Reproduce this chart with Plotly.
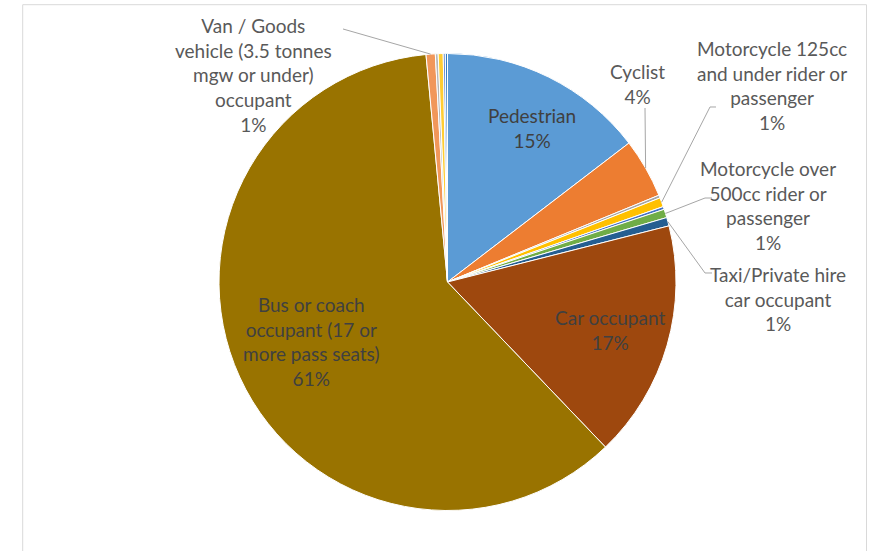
import math
import plotly.graph_objects as go

W, H = 874, 551

# Casualty types in reporting order (share of casualties, %)
categories = [
    "Pedestrian",
    "Cyclist",
    "Motorcycle 50cc and under rider or passenger",
    "Motorcycle 125cc and under rider or passenger",
    "Motorcycle over 125cc and up to 500cc rider or passenger",
    "Motorcycle over 500cc rider or passenger",
    "Taxi/Private hire car occupant",
    "Car occupant",
    "Bus or coach occupant (17 or more pass seats)",
    "Van / Goods vehicle (3.5 tonnes mgw or under) occupant",
    "Goods vehicle (over 3.5t. and under 7.5t.) occupant",
    "Goods vehicle (7.5 tonnes mgw and over) occupant",
    "Mobility scooter rider",
    "Other vehicle occupant",
]
values = [14.6, 4.2, 0.2, 0.65, 0.2, 0.6, 0.6, 16.8, 60.65, 0.65, 0.2, 0.35, 0.15, 0.15]
colors = ["#5B9BD5", "#ED7D31", "#A5A5A5", "#FFC000", "#4472C4", "#70AD47", "#255E91",
          "#9E480E", "#997300", "#F1975A", "#B7B7B7", "#FFCD33", "#698ED0", "#327DC2"]

# Label text per slice (None = unlabelled), with line breaks
label_text = {
    "Pedestrian": "Pedestrian",
    "Cyclist": "Cyclist",
    "Motorcycle 125cc and under rider or passenger": "Motorcycle 125cc<br>and under rider or<br>passenger",
    "Motorcycle over 500cc rider or passenger": "Motorcycle over<br>500cc rider or<br>passenger",
    "Taxi/Private hire car occupant": "Taxi/Private hire<br>car occupant",
    "Car occupant": "Car occupant",
    "Bus or coach occupant (17 or more pass seats)": "Bus or coach<br>occupant (17 or<br>more pass seats)",
    "Van / Goods vehicle (3.5 tonnes mgw or under) occupant": "Van / Goods<br>vehicle (3.5 tonnes<br>mgw or under)<br>occupant",
}
# Label centre positions (px) and whether the label sits inside its slice
label_pos = {
    "Pedestrian": (532, 128, True),
    "Cyclist": (637, 84, False),
    "Motorcycle 125cc and under rider or passenger": (772, 85, False),
    "Motorcycle over 500cc rider or passenger": (768, 206, False),
    "Taxi/Private hire car occupant": (778, 299, False),
    "Car occupant": (610, 330, True),
    "Bus or coach occupant (17 or more pass seats)": (311, 341, True),
    "Van / Goods vehicle (3.5 tonnes mgw or under) occupant": (253, 75, False),
}
# Leader line waypoints (px) from the label towards the slice edge
leader_pts = {
    "Cyclist": [(645, 108)],
    "Motorcycle 125cc and under rider or passenger": [(716, 107), (710, 107)],
    "Motorcycle over 500cc rider or passenger": [(712, 198), (705, 198)],
    "Taxi/Private hire car occupant": [(712, 273), (705, 273)],
    "Van / Goods vehicle (3.5 tonnes mgw or under) occupant": [(343, 29)],
}

# Pie geometry in pixels
CX, CY, R = 447.5, 282.0, 228.5


def px(x):
    return x / W


def py(y):
    return 1 - y / H


fig = go.Figure(go.Pie(
    labels=categories,
    values=values,
    sort=False,
    direction="clockwise",
    rotation=0,
    textinfo="none",
    hoverinfo="label+percent",
    marker=dict(colors=colors, line=dict(color="white", width=1)),
    domain=dict(x=[(CX - R) / W, (CX + R) / W], y=[1 - (CY + R) / H, 1 - (CY - R) / H]),
    showlegend=False,
    automargin=False,
))

total = sum(values)
annotations = []
shapes = []
cum = 0.0
for cat, v in zip(categories, values):
    start = cum
    cum += v
    if cat not in label_text:
        continue
    pct = round(v / total * 100)
    x, y, inside = label_pos[cat]
    annotations.append(dict(
        x=px(x), y=py(y), xref="paper", yref="paper",
        xanchor="center", yanchor="middle", showarrow=False, align="center",
        text=f"{label_text[cat]}<br>{pct}%",
        font=dict(family="Lato", size=19, color="#404040" if inside else "#595959"),
    ))
    if cat in leader_pts:
        mid = (start + v / 2) / total * 2 * math.pi
        ex, ey = CX + R * math.sin(mid), CY - R * math.cos(mid)
        pts = leader_pts[cat] + [(ex, ey)]
        path = "M " + " L ".join(f"{px(a):.5f},{py(b):.5f}" for a, b in pts)
        shapes.append(dict(type="path", xref="paper", yref="paper", path=path,
                           line=dict(color="#A6A6A6", width=1)))

# Chart area frame (open at the bottom edge of the page)
shapes.append(dict(type="rect", xref="paper", yref="paper",
                   x0=px(22.7), x1=px(866.5), y0=py(560), y1=py(4.7),
                   line=dict(color="#D9D9D9", width=1), fillcolor="rgba(0,0,0,0)"))

fig.update_layout(
    width=W, height=H,
    margin=dict(l=0, r=0, t=0, b=0),
    paper_bgcolor="white",
    plot_bgcolor="white",
    annotations=annotations,
    shapes=shapes,
)

fig.write_html("out.html")
